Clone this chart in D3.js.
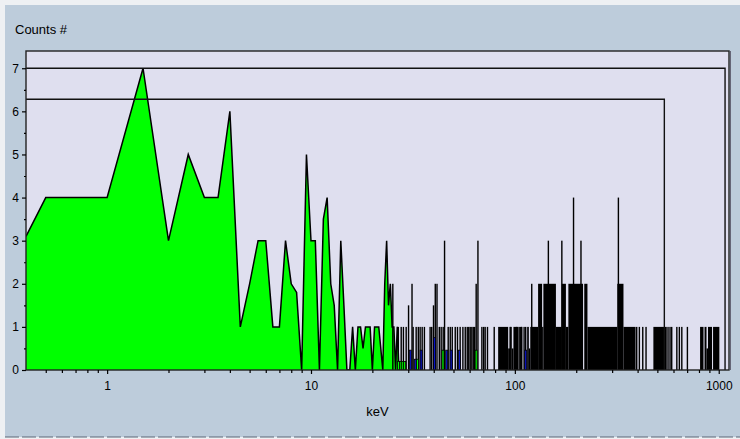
<!DOCTYPE html>
<html>
<head>
<meta charset="utf-8">
<script src="https://cdn.jsdelivr.net/npm/d3@7"></script>
<style>
  body { margin: 0; background: #eef0f3; }
  text { font-family: "Liberation Sans", Arial, sans-serif; fill: #000; }
</style>
</head>
<body>
<div id="chart"></div>
<script>
const width = 740;
const height = 439;
const margin = {top: 51, right: 11, bottom: 69, left: 26};

// smooth low-energy part of the spectrum (0.5 keV channels)
const lowKeV = [0.4, 0.5, 1.0, 1.5, 2.0, 2.5, 3.0, 3.5, 4.0, 4.5, 5.0, 5.5, 6.0, 6.5, 7.0, 7.5, 8.0, 8.5, 9.0, 9.5,
  10.0, 10.5, 11.0, 11.5, 12.0, 12.5, 13.0, 13.5, 14.0, 14.5, 15.0, 15.5, 16.0, 16.5, 17.0, 17.5, 18.0, 18.5, 19.0, 19.5,
  20.0, 20.5, 21.0, 21.5, 22.0, 22.5, 23.0, 23.5, 24.0, 24.5, 25.0, 25.5, 26.0, 26.5, 27.0];
const lowCounts = [3.1, 4, 4, 7, 3, 5, 4, 4, 6, 1, 2, 3, 3, 1, 1, 3, 2, 1.8, 0, 5,
  3, 3, 0, 3.5, 4, 2, 1.5, 0, 3, 1.5, 0, 0, 1, 0, 1, 1, 0.5, 1, 1, 1,
  0, 1, 1, 1, 0.5, 0, 2, 3, 1.5, 2, 1, 1, 0, 1, 0];

// dense high-energy part: runs of channels with the same count
const runFromKeV = [82.8, 92.7, 94.8, 96.6, 98.4, 106, 114.9, 117.1, 119, 130, 136, 138, 159, 170, 178, 183, 219, 227, 318, 341,
  478, 810, 852, 871, 886, 938];
const runToKeV   = [92.7, 94.8, 96.6, 98.4, 104, 108.6, 117.1, 119, 130, 136, 138, 159, 170, 178, 183, 216, 227, 318, 341, 391,
  556, 842, 871, 886, 927, 1007];
const runCounts  = [1, 0.5, 1, 0.5, 1, 1, 1, 0.5, 1, 2, 1, 2, 1, 2, 1, 2, 2, 1, 2, 1,
  1, 1, 1, 0.5, 1, 1];

// single channels
const spikeKeV = [25.2, 26.8, 27.7, 28.4, 29.3, 30.1, 31.3, 31.7, 32.8, 33.6, 34.3, 35.1, 36.0, 38.4, 39.1, 39.9, 40.7, 41.5,
  42.6, 43.5, 44.5, 45.2, 47.1, 48.2, 49.3, 51.0, 52.3, 53.9, 55.6, 57.1, 58.4, 59.4, 60.4, 61.5, 62.5, 63.5, 64.6, 65.9,
  68.9, 70.3, 71.5, 73.4, 79.2, 94.8, 102, 105, 108, 111, 113, 121, 146, 170, 194, 211, 322,
  396, 408, 424, 440, 564, 577, 588, 623, 641, 659, 702];
const spikeCounts = [2, 1, 1, 1, 1, 1.5, 2, 1, 1, 1, 1, 1, 1, 1, 1, 1.5, 2, 2,
  1, 1, 1, 3, 1, 1, 1, 1, 1, 1, 1, 1, 1, 1, 1, 1, 1, 1, 2, 3,
  1, 1, 1, 1, 1, 1, 1, 1, 1, 1, 1, 2, 3, 3, 4, 3, 4,
  1, 1, 1, 1, 1, 1, 1, 1, 1, 1, 1];

// second and third series (blue, green channels)
const blueKeV = [30.7, 32.5, 34.7, 40.4, 46.3, 48.7, 53.5, 113];
const blueCounts = [0.46, 0.25, 0.46, 0.75, 0.46, 0.46, 0.46, 0.46];
const greenKeV = [26.9, 27.6, 28.2, 28.8, 33.3, 44.4, 64.6];
const greenCounts = [0.2, 0.2, 0.2, 0.2, 0.25, 0.46, 0.46];

// region markers
const markerKeV = [1074, 541];
const markerCounts = [7, 6.28];

const xMajor = [1, 10, 100, 1000];
const xMinor = [0.5, 0.6, 0.7, 0.8, 0.9, 2, 3, 4, 5, 6, 7, 8, 9, 20, 30, 40, 50, 60, 70, 80, 90,
  200, 300, 400, 500, 600, 700, 800, 900];
const yMajor = [0, 1, 2, 3, 4, 5, 6, 7];
const yMinor = [0.5, 1.5, 2.5, 3.5, 4.5, 5.5, 6.5];

const x = d3.scaleLog()
  .domain([0.4, 1123])
  .range([margin.left, width - margin.right]);
const y = d3.scaleLinear()
  .domain([0, 7.4])
  .range([height - margin.bottom, margin.top]);

const svg = d3.select('#chart').append('svg')
  .attr('width', width)
  .attr('height', height);

// panel
svg.append('rect')
  .attr('x', 5).attr('y', 5)
  .attr('width', width - 5).attr('height', height - 7)
  .attr('fill', '#bdccdb');
svg.append('line')
  .attr('x1', 5).attr('x2', width).attr('y1', height - 2).attr('y2', height - 2)
  .attr('stroke', '#5a6676').attr('stroke-dasharray', '14,3');

// plot area
svg.append('rect')
  .attr('x', margin.left).attr('y', margin.top)
  .attr('width', width - margin.left - margin.right)
  .attr('height', height - margin.top - margin.bottom)
  .attr('fill', '#dfdfef');

svg.append('clipPath').attr('id', 'clip')
  .append('rect')
  .attr('x', margin.left).attr('y', margin.top)
  .attr('width', width - margin.left - margin.right)
  .attr('height', height - margin.top - margin.bottom);

const plot = svg.append('g').attr('clip-path', 'url(#clip)');

// low energy area
const lowData = lowKeV.map((k, i) => ({k: k, c: lowCounts[i]}));
plot.append('path')
  .datum(lowData)
  .attr('fill', '#00ff00')
  .attr('d', d3.area().x(d => x(d.k)).y0(y(0)).y1(d => y(d.c)));
plot.append('path')
  .datum(lowData)
  .attr('fill', 'none')
  .attr('stroke', '#000')
  .attr('stroke-width', 1.5)
  .attr('d', d3.line().x(d => x(d.k)).y(d => y(d.c)));

// runs
plot.selectAll('.run')
  .data(runFromKeV.map((k, i) => ({a: k, b: runToKeV[i], c: runCounts[i]})))
  .enter().append('rect')
  .attr('class', 'run')
  .attr('x', d => x(d.a))
  .attr('width', d => Math.max(1, x(d.b) - x(d.a)))
  .attr('y', d => y(d.c))
  .attr('height', d => y(0) - y(d.c))
  .attr('fill', '#000');

// spikes
plot.selectAll('.spike')
  .data(spikeKeV.map((k, i) => ({k: k, c: spikeCounts[i]})))
  .enter().append('rect')
  .attr('class', 'spike')
  .attr('x', d => x(d.k) - 0.7)
  .attr('width', 1.4)
  .attr('y', d => y(d.c))
  .attr('height', d => y(0) - y(d.c))
  .attr('fill', '#000');

// colored channels
function bars(keys, counts, color) {
  plot.selectAll(null)
    .data(keys.map((k, i) => ({k: k, c: counts[i]})))
    .enter().append('rect')
    .attr('x', d => x(d.k) - 1)
    .attr('width', 2)
    .attr('y', d => y(d.c))
    .attr('height', d => y(0) - y(d.c))
    .attr('fill', color)
    .attr('stroke', '#000')
    .attr('stroke-width', 0.8);
}
bars(blueKeV, blueCounts, '#0a14c8');
bars(greenKeV, greenCounts, '#00ff00');

// markers
plot.selectAll('.marker')
  .data(markerKeV.map((k, i) => ({k: k, c: markerCounts[i]})))
  .enter().append('path')
  .attr('class', 'marker')
  .attr('fill', 'none')
  .attr('stroke', '#111')
  .attr('stroke-width', 1.4)
  .attr('d', d => 'M' + margin.left + ',' + y(d.c) + 'H' + x(d.k) + 'V' + y(0));

// frame
svg.append('rect')
  .attr('x', margin.left).attr('y', margin.top)
  .attr('width', width - margin.left - margin.right)
  .attr('height', height - margin.top - margin.bottom)
  .attr('fill', 'none')
  .attr('stroke', '#222')
  .attr('stroke-width', 1.4);
svg.append('line')
  .attr('x1', width - margin.right + 1.5).attr('x2', width - margin.right + 1.5)
  .attr('y1', margin.top).attr('y2', height - margin.bottom)
  .attr('stroke', '#667').attr('stroke-width', 1);

// x axis
const xAxisMinor = svg.append('g')
  .attr('transform', 'translate(0,' + y(0) + ')')
  .call(d3.axisBottom(x).tickValues(xMinor).tickSize(3).tickFormat(''));
const xAxisMajor = svg.append('g')
  .attr('transform', 'translate(0,' + y(0) + ')')
  .call(d3.axisBottom(x).tickValues(xMajor).tickSize(4).tickPadding(7).tickFormat(d3.format('d')));

// y axis
const yAxisMinor = svg.append('g')
  .attr('transform', 'translate(' + margin.left + ',0)')
  .call(d3.axisLeft(y).tickValues(yMinor).tickSize(2).tickFormat(''));
const yAxisMajor = svg.append('g')
  .attr('transform', 'translate(' + margin.left + ',0)')
  .call(d3.axisLeft(y).tickValues(yMajor).tickSize(4).tickPadding(3).tickFormat(d3.format('d')));

[xAxisMinor, xAxisMajor, yAxisMinor, yAxisMajor].forEach(g => {
  g.select('.domain').remove();
  g.selectAll('line').attr('stroke', '#000').attr('stroke-width', 1.2);
  g.selectAll('text')
    .attr('font-family', '"Liberation Sans", Arial, sans-serif')
    .attr('font-size', 12)
    .attr('fill', '#000');
});

// titles
svg.append('text')
  .attr('x', 15).attr('y', 34)
  .attr('font-size', 13)
  .text('Counts #');
svg.append('text')
  .attr('x', (margin.left + width - margin.right) / 2).attr('y', 416)
  .attr('text-anchor', 'middle')
  .attr('font-size', 13)
  .text('keV');
</script>
</body>
</html>
